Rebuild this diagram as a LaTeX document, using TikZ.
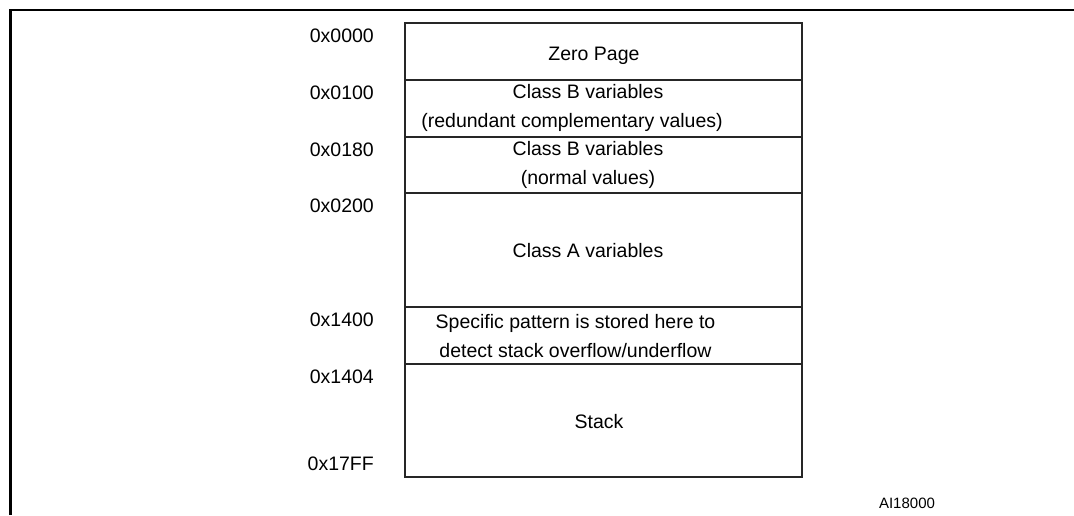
\documentclass[tikz,border=0pt]{standalone}
\usepackage{fontspec}
\setmainfont{Liberation Sans}
\begin{document}
\begin{tikzpicture}[x=1pt,y=-1pt,
  txt/.style={anchor=base, inner sep=0pt, font=\fontsize{19.5}{23}\selectfont},
  addr/.style={anchor=base east, inner sep=0pt, font=\fontsize{19.5}{23}\selectfont},
  cell/.style={draw=black!85, line width=1.3pt},
  frame/.style={draw=black, line width=2.6pt}]
\useasboundingbox (0,0) rectangle (1074,515);
% frame
\draw[frame] (10.5,515) -- (10.5,10) -- (1074,10);
% memory cells
\draw[cell] (405,23) rectangle (802,80);
\draw[cell] (405,80) rectangle (802,137);
\draw[cell] (405,137) rectangle (802,193);
\draw[cell] (405,193) rectangle (802,307);
\draw[cell] (405,307) rectangle (802,364);
\draw[cell] (405,364) rectangle (802,477);
% addresses
\node[addr] (a0) at (374,42) {0x0000};
\node[addr] (a1) at (374,99) {0x0100};
\node[addr] (a2) at (374,156) {0x0180};
\node[addr] (a3) at (374,212) {0x0200};
\node[addr] (a4) at (374,326) {0x1400};
\node[addr] (a5) at (374,383) {0x1404};
\node[addr] (a6) at (374,470) {0x17FF};
% contents
\node[txt] (zp) at (594,60) {Zero Page};
\node[txt] (cb1) at (588,98) {Class B variables};
\node[txt] (cb1b) at (572,127) {(redundant complementary values)};
\node[txt] (cb2) at (588,155) {Class B variables};
\node[txt] (cb2b) at (588,184) {(normal values)};
\node[txt] (ca) at (588,257) {Class A variables};
\node[txt] (sp1) at (575.5,328) {Specific pattern is stored here to};
\node[txt] (sp2) at (575.5,357) {detect stack overflow/underflow};
\node[txt] (st) at (599,428) {Stack};
\node[anchor=base, inner sep=0pt, font=\fontsize{15}{18}\selectfont] (ref) at (907,508) {AI18000};
\end{tikzpicture}
\end{document}
